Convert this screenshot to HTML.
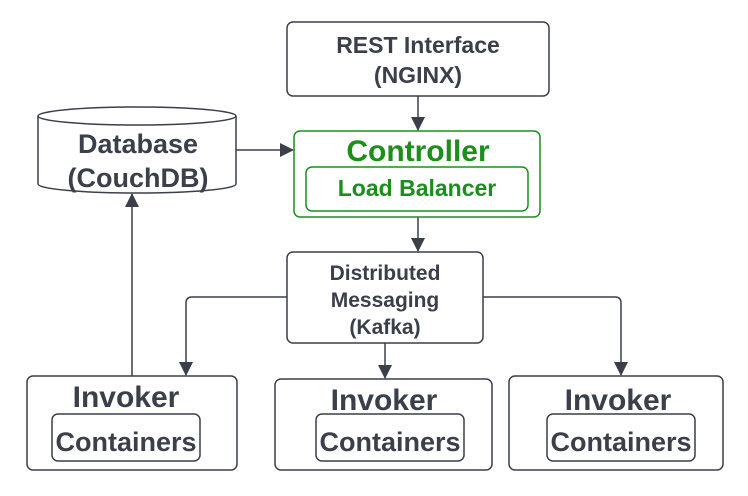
<!DOCTYPE html>
<html><head><style>body{margin:0;background:#fff}svg{display:block}text{font-family:"Liberation Sans",sans-serif;font-weight:bold;text-anchor:middle}</style></head><body>
<svg width="748" height="496" viewBox="0 0 748 496">
<defs><marker id="b" markerWidth="14" markerHeight="16" refX="13" refY="8" orient="auto" markerUnits="userSpaceOnUse"><path d="M0,1L14,8L0,15Z" fill="#3a3f4a"/></marker></defs>
<g fill="none" stroke="#3a3f4a" stroke-width="1.5">
<rect x="287" y="22" width="262" height="74" rx="6" fill="#fff"/>
<path d="M38,116 L38,184 A99,9 0 0 0 236,184 L236,116"/>
<ellipse cx="137" cy="116" rx="99" ry="9"/>
<rect x="287" y="252" width="196" height="91" rx="6"/>
<rect x="27" y="376" width="210" height="94" rx="6"/>
<rect x="52" y="414" width="148" height="47" rx="6"/>
<rect x="275" y="379" width="217" height="91" rx="6"/>
<rect x="316" y="414" width="148" height="47" rx="6"/>
<rect x="509" y="376" width="214" height="94" rx="6"/>
<rect x="547" y="414" width="148" height="47" rx="6"/>
<path d="M418,96V130" marker-end="url(#b)"/>
<path d="M236,150H293" marker-end="url(#b)"/>
<path d="M418,217V251" marker-end="url(#b)"/>
<path d="M132,376V194" marker-end="url(#b)"/>
<path d="M287,297H192Q186,297 186,303V375" marker-end="url(#b)"/>
<path d="M385,343V378" marker-end="url(#b)"/>
<path d="M483,297H615Q621,297 621,303V375" marker-end="url(#b)"/>
</g>
<g fill="none" stroke="#1a8f1a" stroke-width="1.5">
<rect x="294" y="131" width="246" height="86" rx="6"/>
<rect x="306" y="167" width="222" height="44" rx="6"/>
</g>
<g fill="#3a3f4a">
<text x="418" y="53" font-size="23">REST Interface</text>
<text x="418" y="83" font-size="23">(NGINX)</text>
<text x="138" y="153" font-size="27">Database</text>
<text x="138" y="187" font-size="27">(CouchDB)</text>
<text x="385" y="280" font-size="21">Distributed</text>
<text x="385" y="307" font-size="21">Messaging</text>
<text x="385" y="334" font-size="21">(Kafka)</text>
<text x="126" y="407" font-size="30">Invoker</text>
<text x="126" y="451" font-size="27">Containers</text>
<text x="384" y="410" font-size="30">Invoker</text>
<text x="390" y="451" font-size="27">Containers</text>
<text x="618" y="410" font-size="30">Invoker</text>
<text x="621" y="451" font-size="27">Containers</text>
</g>
<g fill="#1a8f1a">
<text x="418" y="161" font-size="30">Controller</text>
<text x="417" y="196" font-size="23">Load Balancer</text>
</g>
</svg>
</body></html>
